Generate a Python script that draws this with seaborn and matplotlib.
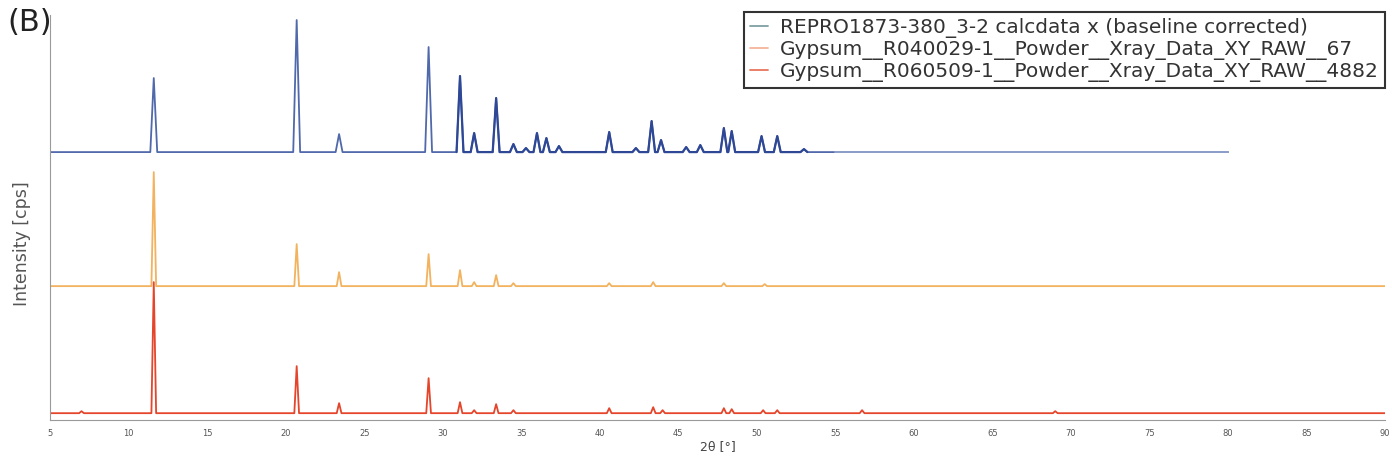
import numpy as np
import pandas as pd
import matplotlib
matplotlib.use('Agg')
import matplotlib.pyplot as plt
import seaborn as sns

# peak positions (2theta, deg) and heights (cps, arbitrary)
blue_pos = [11.6, 20.7, 23.4, 29.1, 31.1, 32.0, 33.4, 34.5, 35.3, 36.0, 36.6, 37.4,
            40.6, 42.3, 43.3, 43.9, 45.5, 46.4, 47.9, 48.4, 50.3, 51.3, 53.0]
blue_h = [74, 132, 18, 105, 76, 19, 54, 8, 4, 19, 14, 6,
          20, 4, 31, 12, 5, 7, 24, 21, 16, 16, 3]
blue_range = [5, 80]

orange_pos = [11.6, 20.7, 23.4, 29.1, 31.1, 32.0, 33.4, 34.5, 40.6, 43.4, 47.9, 50.5]
orange_h = [114, 42, 14, 32, 16, 4, 11, 3, 3, 4, 3, 2]
orange_range = [5, 90]

red_pos = [7.0, 11.6, 20.7, 23.4, 29.1, 31.1, 32.0, 33.4, 34.5, 40.6, 43.4, 44.0,
           47.9, 48.4, 50.4, 51.3, 56.7, 69.0]
red_h = [2, 131, 47, 10, 35, 11, 3, 9, 3, 5, 6, 3, 5, 4, 3, 3, 3, 2]
red_range = [5, 90]

labels = ['REPRO1873-380_3-2 calcdata x (baseline corrected)',
          'Gypsum__R040029-1__Powder__Xray_Data_XY_RAW__67',
          'Gypsum__R060509-1__Powder__Xray_Data_XY_RAW__4882']
xticks = list(range(5, 95, 5))

offsets = [261, 127, 0]
half_widths = [0.22, 0.15, 0.15]
colors = ['#5069ab', '#f2b25e', '#e4452b']
handle_colors = ['#7f9fa5', '#f4b49c', '#e8745a']


def profile(pos, h, rng, off, hw):
    # polyline through baseline and peak apex vertices
    xs, ys = [rng[0]], [off]
    for p, v in zip(pos, h):
        xs += [p - hw, p, p + hw]
        ys += [off, off + v, off]
    xs.append(rng[1])
    ys.append(off)
    return pd.DataFrame({'x': xs, 'y': ys})


sns.set_style('white')
plt.rcParams['font.family'] = ['DejaVu Sans']

fig = plt.figure(figsize=(13.92, 4.70), dpi=100)
ax = fig.add_axes([0.036, 0.106, 0.959, 0.862])

series = [(blue_pos, blue_h, blue_range), (orange_pos, orange_h, orange_range),
          (red_pos, red_h, red_range)]
for i, (pos, h, rng) in enumerate(series):
    df = profile(pos, h, rng, offsets[i], half_widths[i])
    sns.lineplot(data=df, x='x', y='y', ax=ax, color=colors[i], lw=1.3,
                 label=labels[i], sort=False, estimator=None)
    if i == 0:
        # darker, heavier middle section and paler tail of the measured pattern
        sub = df[(df['x'] >= 29.5) & (df['x'] <= 55)]
        sns.lineplot(data=sub, x='x', y='y', ax=ax, color='#2f4896', lw=1.6,
                     sort=False, estimator=None)
        tail = pd.DataFrame({'x': [55, rng[1]], 'y': [offsets[0], offsets[0]]})
        sns.lineplot(data=tail, x='x', y='y', ax=ax, color='#8e9fc9', lw=1.4,
                     sort=False, estimator=None)

ax.set_xlim(5, 90)
ax.set_ylim(-7, 398)
ax.set_xticks(xticks)
ax.set_xticklabels([str(t) for t in xticks], fontsize=6, color='#555555')
ax.set_yticks([])
ax.tick_params(axis='x', length=2, color='#999999', pad=4)
for s in ['top', 'right']:
    ax.spines[s].set_visible(False)
for s in ['left', 'bottom']:
    ax.spines[s].set_color('#9a9a9a')
    ax.spines[s].set_linewidth(0.8)
ax.set_xlabel('2θ [°]', fontsize=9, color='#444444', labelpad=2)
ax.set_ylabel('Intensity [cps]', fontsize=12.5, color='#555555')
ax.yaxis.set_label_coords(-0.014, 0.437)

leg = ax.legend(loc='upper right', bbox_to_anchor=(1385 / 1392, 1 - 12 / 470),
                bbox_transform=fig.transFigure, fontsize=14.5,
                frameon=True, fancybox=False, edgecolor='#333333',
                framealpha=1, handlelength=0.9, handletextpad=0.6,
                borderpad=0.3, labelspacing=0.1, borderaxespad=0)
leg.get_frame().set_linewidth(1.5)
for txt in leg.get_texts():
    txt.set_color('#333333')
for hdl, c in zip(leg.legend_handles, handle_colors):
    hdl.set_color(c)

fig.text(0.005, 0.953, '(B)', fontsize=22, color='#222222', va='center')

fig.savefig('out.png', dpi=100)
